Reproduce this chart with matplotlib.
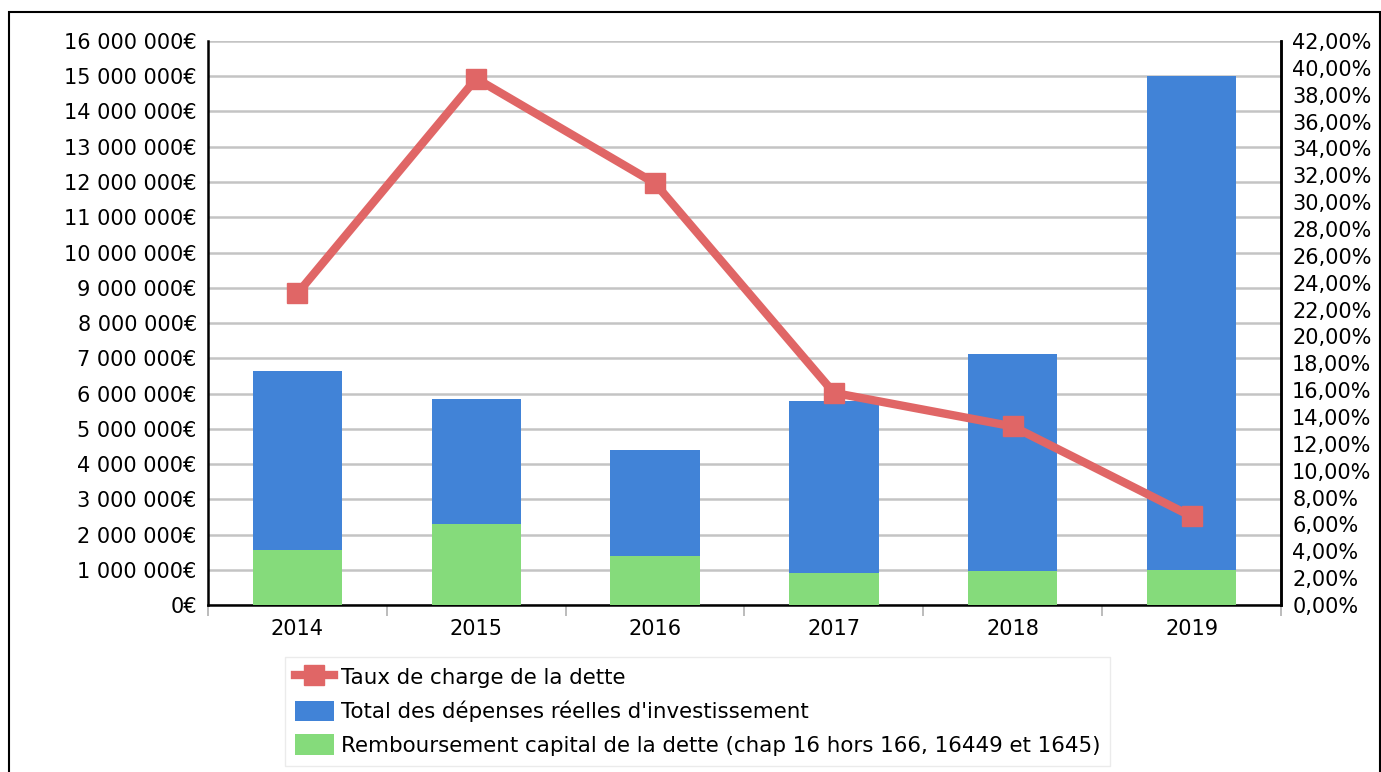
import matplotlib
matplotlib.use("Agg")
import matplotlib.pyplot as plt
from matplotlib.patches import Rectangle
from matplotlib.ticker import FuncFormatter

years = ["2014", "2015", "2016", "2017", "2018", "2019"]
total_invest = [6640000, 5840000, 4400000, 5790000, 7120000, 15000000]
rembours = [1560000, 2300000, 1390000, 910000, 960000, 990000]
taux_charge = [23.2, 39.2, 31.4, 15.8, 13.3, 6.6]

lbl_taux = "Taux de charge de la dette"
lbl_total = "Total des dépenses réelles d'investissement"
lbl_remb = "Remboursement capital de la dette (chap 16 hors 166, 16449 et 1645)"

blue = "#4183d7"
green = "#85db7b"
red = "#e06666"

plt.rcParams["font.family"] = ["DejaVu Sans"]

fig = plt.figure(figsize=(13.81, 7.72), dpi=100)
ax = fig.add_axes([0.1506, 0.2163, 0.7770, 0.7306])

x = list(range(len(years)))
b1 = ax.bar(x, total_invest, width=0.5, color=blue, zorder=2, label=lbl_total)
b2 = ax.bar(x, rembours, width=0.5, color=green, zorder=3, label=lbl_remb)

ax.set_xlim(-0.5, len(years) - 0.5)
ax.set_ylim(0, 16000000)
ax.set_yticks(range(0, 16000001, 1000000))
ax.yaxis.set_major_formatter(FuncFormatter(lambda v, p: f"{int(v):,}".replace(",", " ") + "€"))
ax.grid(axis="y", color="#c4c4c4", linewidth=1.8, zorder=0)
ax.set_axisbelow(True)

ax.set_xticks(x)
ax.set_xticklabels(years)
ax.set_xticks([i - 0.5 for i in range(len(years) + 1)], minor=True)
ax.tick_params(axis="x", which="major", length=0, pad=10, labelsize=15)
ax.tick_params(axis="x", which="minor", length=8, color="#b0b0b0", width=1.2)
ax.tick_params(axis="y", length=0, pad=8, labelsize=15)

ax.spines["top"].set_visible(False)
for s in ["left", "bottom", "right"]:
    ax.spines[s].set_linewidth(1.8)

ax2 = ax.twinx()
ln, = ax2.plot(x, taux_charge, color=red, linewidth=6, marker="s", markersize=15,
               label=lbl_taux, zorder=4)
ax2.set_ylim(0, 42)
ax2.set_yticks(range(0, 43, 2))
ax2.yaxis.set_major_formatter(FuncFormatter(lambda v, p: f"{v:.2f}%".replace(".", ",")))
ax2.tick_params(axis="y", length=0, pad=8, labelsize=15)
ax2.spines["top"].set_visible(False)
ax2.spines["right"].set_linewidth(1.8)
ax2.spines["left"].set_visible(False)
ax2.spines["bottom"].set_visible(False)

# legend box below the plot
leg = fig.legend([ln, b1, b2], [lbl_taux, lbl_total, lbl_remb],
                 loc="upper left", bbox_to_anchor=(0.2064, 0.149),
                 fontsize=15.4, frameon=True, fancybox=False, borderaxespad=0,
                 handlelength=1.85, handleheight=1.1, handletextpad=0.3,
                 labelspacing=0.58, borderpad=0.45)
leg.get_frame().set_edgecolor("#e6e6e6")
leg.get_frame().set_linewidth(1)

fig.patches.append(Rectangle((9 / 1381, -0.01), 1371 / 1381, 1 - 12 / 772 + 0.01,
                             transform=fig.transFigure, fill=False,
                             edgecolor="black", linewidth=1.5))

fig.savefig("out.png", dpi=100)
